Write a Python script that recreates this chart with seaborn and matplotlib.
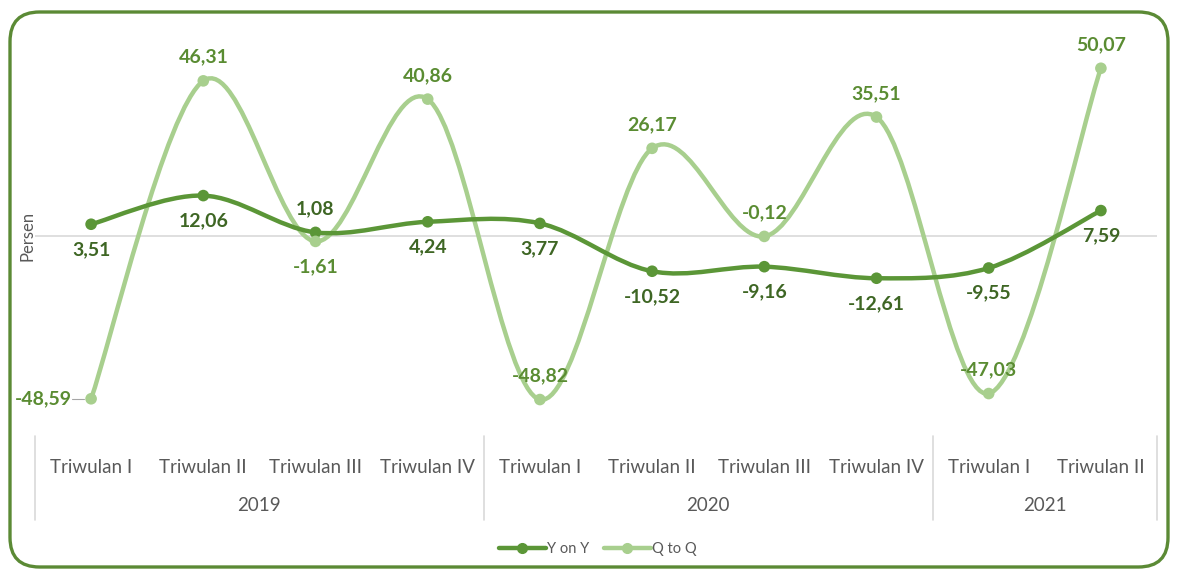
import numpy as np
import pandas as pd
import matplotlib
matplotlib.use('Agg')
import matplotlib.pyplot as plt
import seaborn as sns
from matplotlib.path import Path
from matplotlib.patches import PathPatch, FancyBboxPatch
from matplotlib.lines import Line2D
import matplotlib.transforms as mtransforms

sns.set_style("white")
plt.rcParams['font.family'] = ['Lato', 'DejaVu Sans']

# ── data ─────────────────────────────────────────────
years = ['2019', '2020', '2021']
quarters = ['Triwulan I', 'Triwulan II', 'Triwulan III', 'Triwulan IV',
            'Triwulan I', 'Triwulan II', 'Triwulan III', 'Triwulan IV',
            'Triwulan I', 'Triwulan II']
year_span = [4, 4, 2]
yoy = [3.51, 12.06, 1.08, 4.24, 3.77, -10.52, -9.16, -12.61, -9.55, 7.59]
qtq = [-48.59, 46.31, -1.61, 40.86, -48.82, 26.17, -0.12, 35.51, -47.03, 50.07]

# where each data label sits relative to its point
yoy_pos = ['below', 'below', 'above', 'below', 'below',
           'below', 'below', 'below', 'below', 'below']
qtq_pos = ['left', 'above', 'below', 'above', 'above',
           'above', 'above', 'above', 'above', 'above']

C_YOY = '#5b9637'
C_QTQ = '#a8cf8e'
C_LAB_YOY = '#3e6624'
C_LAB_QTQ = '#5a8c32'
C_TXT = '#595959'

x = np.arange(len(quarters))
df = pd.DataFrame({
    'x': np.concatenate([x, x]),
    'val': yoy + qtq,
    'seri': ['Y on Y'] * len(x) + ['Q to Q'] * len(x),
})


def smooth_path(xs, ys):
    # excel-like smoothed line: cubic bezier w/ catmull-rom control points
    pts = np.column_stack([xs, ys]).astype(float)
    n = len(pts)
    verts = [pts[0]]
    codes = [Path.MOVETO]
    for i in range(n - 1):
        p0 = pts[i - 1] if i > 0 else pts[i]
        p1 = pts[i]
        p2 = pts[i + 1]
        p3 = pts[i + 2] if i + 2 < n else pts[i + 1]
        c1 = p1 + (p2 - p0) / 6
        c2 = p2 - (p3 - p1) / 6
        verts += [c1, c2, p2]
        codes += [Path.CURVE4] * 3
    return Path(verts, codes)


fig = plt.figure(figsize=(11.82, 5.69), dpi=100)
ax = fig.add_axes([35 / 1182, 1 - 436 / 569, 1122 / 1182, 416 / 569])
ax.set_xlim(-0.5, 9.5)
ax.set_ylim(-(436 - 236) / 3.35, (236 - 20) / 3.35)

ax.axhline(0, color='#d9d9d9', lw=1.2, zorder=1)

for vals, col in [(qtq, C_QTQ), (yoy, C_YOY)]:
    ax.add_patch(PathPatch(smooth_path(x, vals), fill=False, edgecolor=col,
                           lw=3.2, capstyle='round', zorder=2))

sns.scatterplot(data=df, x='x', y='val', hue='seri',
                palette={'Y on Y': C_YOY, 'Q to Q': C_QTQ},
                s=70, edgecolor='none', legend=False, zorder=3, ax=ax)

ax.set_xticks([])
ax.set_yticks([])
ax.set_xlabel('')
ax.set_ylabel('')
for sp in ax.spines.values():
    sp.set_visible(False)

fig.text(27 / 1182, 1 - 236 / 569, 'Persen', rotation=90, ha='center',
         va='center', fontsize=12, color=C_TXT)


def fmt(v):
    return f'{v:.2f}'.replace('.', ',')


def put_labels(vals, pos, col):
    for xi, v, p in zip(x, vals, pos):
        if p == 'above':
            off, ha, va = (0, 11), 'center', 'bottom'
        elif p == 'below':
            off, ha, va = (0, -12), 'center', 'top'
        else:
            off, ha, va = (-14, 0), 'right', 'center'
        ax.annotate(fmt(v), (xi, v), xytext=off, textcoords='offset points',
                    ha=ha, va=va, fontsize=14, fontweight='bold', color=col,
                    zorder=4)


put_labels(yoy, yoy_pos, C_LAB_YOY)
put_labels(qtq, qtq_pos, C_LAB_QTQ)
# little leader line for the first label
ax.plot([x[0] - 0.17, x[0] - 0.06], [qtq[0], qtq[0]], color='#a6a6a6', lw=0.8, zorder=2)

# ── two-level category axis ──────────────────────────
trans = mtransforms.blended_transform_factory(ax.transData, ax.transAxes)
for xi, q in zip(x, quarters):
    ax.text(xi, -0.075, q, transform=trans, ha='center', va='center',
            fontsize=13.5, color=C_TXT)
start = -0.5
bounds = [start]
for yr, span in zip(years, year_span):
    ax.text(start + span / 2, -0.168, yr, transform=trans, ha='center',
            va='center', fontsize=13.5, color=C_TXT)
    start += span
    bounds.append(start)
for b in bounds:
    ax.plot([b, b], [0, -0.202], transform=trans, color='#d9d9d9', lw=1.2,
            clip_on=False)

# ── legend ───────────────────────────────────────────
handles = [Line2D([], [], color=C_YOY, lw=3.2, marker='o', markersize=7),
           Line2D([], [], color=C_QTQ, lw=3.2, marker='o', markersize=7)]
fig.legend(handles, ['Y on Y', 'Q to Q'], loc='center',
           bbox_to_anchor=(598 / 1182, 1 - 549 / 569), ncol=2, frameon=False,
           fontsize=10.5, labelcolor=C_TXT, handlelength=3.2, handletextpad=0.1,
           columnspacing=1.0)

# ── rounded border ───────────────────────────────────
fig.patches.append(FancyBboxPatch((10 / 1182, 1 - 567 / 569), 1168 / 1182 - 10 / 1182,
                                  (567 - 12) / 569,
                                  boxstyle='round,pad=0,rounding_size=0.025',
                                  transform=fig.transFigure, fill=False,
                                  edgecolor='#5b8a35', lw=2.4, mutation_aspect=1182 / 569))

fig.savefig('out.png', dpi=100)
